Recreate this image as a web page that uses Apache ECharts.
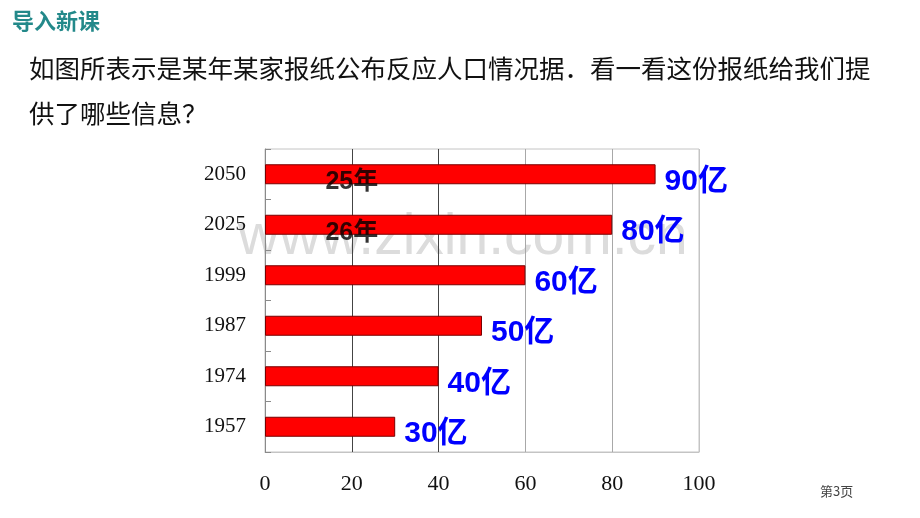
<!DOCTYPE html>
<html>
<head>
<meta charset="utf-8">
<script src="https://cdn.jsdelivr.net/npm/echarts@6/dist/echarts.min.js"></script>
<style>
html,body{margin:0;padding:0;background:#fff;}
#chart{width:920px;height:518px;}
</style>
</head>
<body>
<div id="chart"></div>
<script>
const categories = ['1957', '1974', '1987', '1999', '2025', '2050'];
const population = [30, 40, 50, 60, 80, 90];
const valueLabels = ['30亿', '40亿', '50亿', '60亿', '80亿', '90亿'];
const gapCategories = ['2050', '2025'];
const gapLabels = ['25年', '26年'];
const gapPosition = [20, 20];
const xTicks = [0, 20, 40, 60, 80, 100];
const titleText = '导入新课';
const questionLine1 = '如图所表示是某年某家报纸公布反应人口情况据．看一看这份报纸给我们提';
const questionLine2 = '供了哪些信息？';
const pageText = '第3页';
const watermarkText = 'www.zixin.com.cn';

const chart = echarts.init(document.getElementById('chart'));
const cjk = '"Noto Sans CJK SC", "Liberation Sans", sans-serif';
const latinCjk = '"Liberation Sans", "Noto Sans CJK SC", sans-serif';
const serif = '"Liberation Serif", "DejaVu Serif", serif';

chart.setOption({
  backgroundColor: '#fff',
  animation: false,
  graphic: [
    { type: 'text', left: 12, top: 10, z: 10,
      style: { text: titleText, font: 'bold 22px ' + cjk, fill: '#23898a' } },
    { type: 'text', left: 29, top: 56, z: 10,
      style: { text: questionLine1, font: '25.5px ' + cjk, fill: '#111' } },
    { type: 'text', left: 29, top: 101, z: 10,
      style: { text: questionLine2, font: '25.5px ' + cjk, fill: '#111' } },
    { type: 'text', left: 820, top: 485, z: 10,
      style: { text: pageText, font: '13px ' + cjk, fill: '#444' } },
    { type: 'text', left: 238, top: 210, z: -10, silent: true,
      style: { text: watermarkText, font: '57px "Liberation Sans", Arial, sans-serif', fill: '#dcdcdc' } }
  ],
  grid: {
    left: 265, right: 221, top: 149, bottom: 66,
    show: true, borderColor: '#c4c4c4', borderWidth: 1, backgroundColor: 'transparent'
  },
  xAxis: {
    type: 'value', min: 0, max: 100, interval: 20,
    axisLine: { show: true, lineStyle: { color: '#c4c4c4' } },
    axisTick: { show: false },
    axisLabel: {
      margin: 21, fontFamily: serif, fontSize: 22, color: '#111',
      formatter: v => xTicks.includes(v) ? String(v) : ''
    },
    splitLine: { show: true, lineStyle: { color: ['#999', '#444', '#444', '#a8a8a8', '#a8a8a8', '#c4c4c4'], width: 1 } }
  },
  yAxis: {
    type: 'category', data: categories,
    axisLine: { show: true, lineStyle: { color: '#8a8a8a' } },
    axisTick: { show: true, inside: true, length: 6, lineStyle: { color: '#8a8a8a' } },
    axisLabel: { margin: 19, fontFamily: serif, fontSize: 21, color: '#111' },
    splitLine: { show: false }
  },
  series: [
    {
      type: 'bar', data: population, barWidth: 20, z: 2,
      itemStyle: { color: '#ff0000', borderColor: '#7a0000', borderWidth: 1 },
      label: {
        show: true, position: 'right', distance: 9, offset: [0, 7],
        formatter: p => valueLabels[p.dataIndex],
        fontFamily: latinCjk, fontWeight: 'bold', fontSize: 30, color: '#0000ff'
      }
    },
    {
      type: 'scatter', symbolSize: 0, z: 5,
      data: gapCategories.map((c, i) => [gapPosition[i], c]),
      label: {
        show: true, position: 'inside', offset: [0, 8],
        formatter: p => gapLabels[p.dataIndex],
        fontFamily: latinCjk, fontWeight: 'bold', fontSize: 25, color: '#000'
      }
    }
  ]
});
</script>
</body>
</html>
